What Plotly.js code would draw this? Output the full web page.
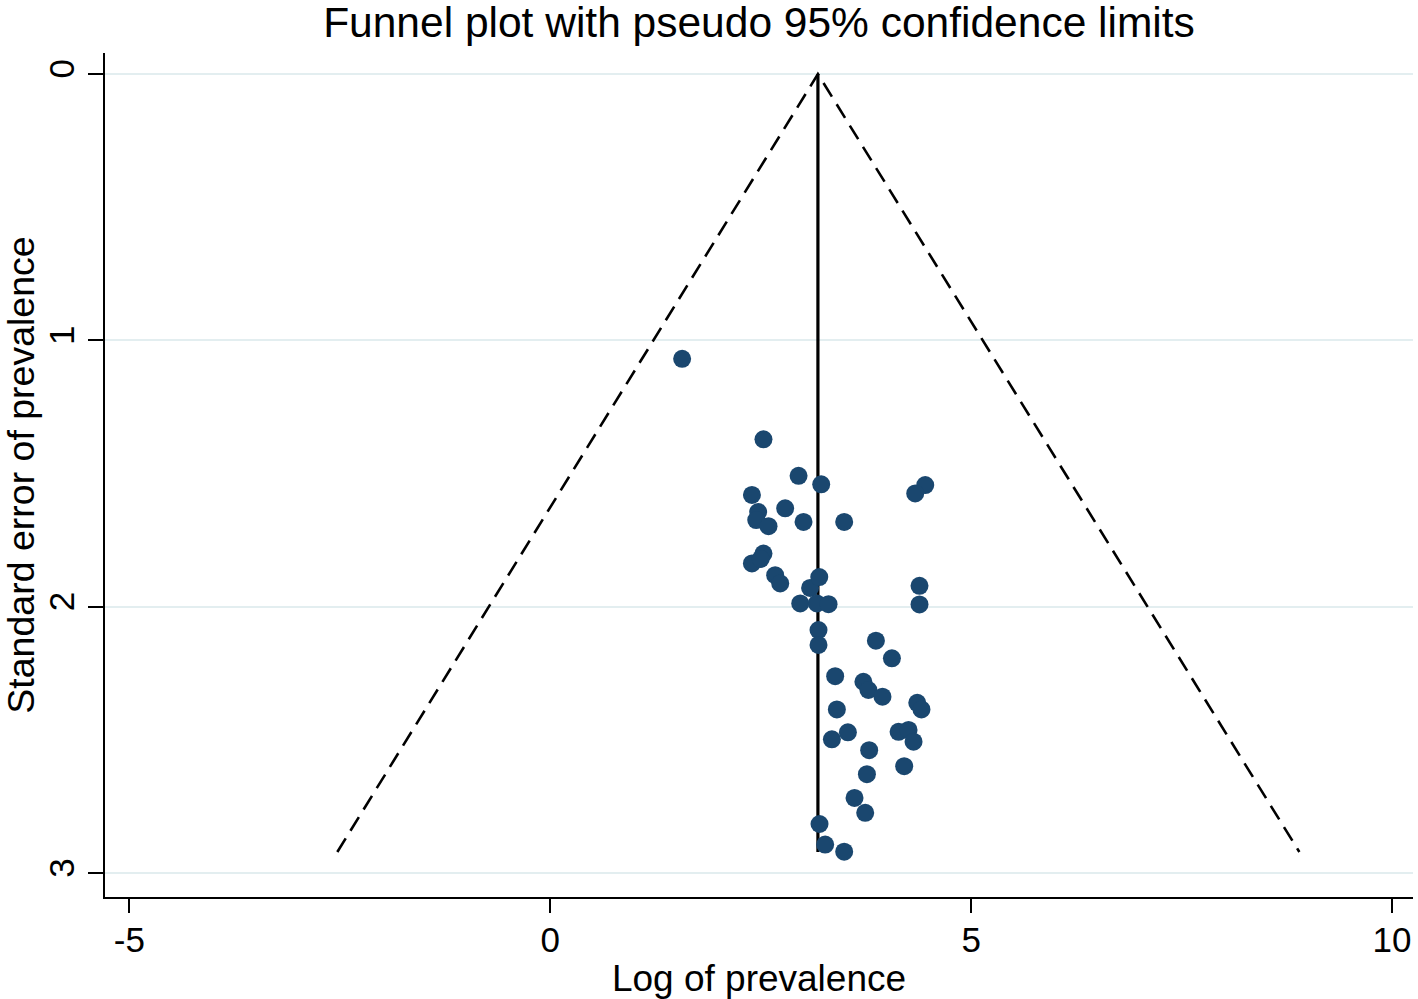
<!DOCTYPE html>
<html>
<head>
<meta charset="utf-8">
<script src="https://cdn.plot.ly/plotly-3.0.1.min.js"></script>
<style>html,body{margin:0;padding:0;background:#fff;}#chart{width:1418px;height:999px;}</style>
</head>
<body>
<div id="chart"></div>
<script>
// Study estimates: log prevalence (x) and its standard error (y)
const logPrevalence = [
  1.567, 2.533, 2.950, 3.219, 2.396, 4.455, 4.336, 2.470, 2.447, 2.593,
  2.791, 3.009, 3.492, 2.533, 2.396, 2.500, 2.672, 2.732, 3.087, 3.196,
  2.970, 3.168, 3.306, 4.387, 4.387, 3.187, 3.187, 3.869, 4.059, 3.385,
  3.720, 3.780, 3.947, 4.360, 4.410, 3.405, 3.536, 3.346, 4.138, 4.257,
  4.316, 3.789, 4.205, 3.762, 3.615, 3.742, 3.199, 3.266, 3.492
];
const stdError = [
  1.069, 1.371, 1.508, 1.540, 1.580, 1.543, 1.574, 1.644, 1.674, 1.697,
  1.630, 1.681, 1.681, 1.800, 1.837, 1.820, 1.881, 1.912, 1.929, 1.888,
  1.987, 1.987, 1.990, 1.921, 1.991, 2.087, 2.143, 2.127, 2.193, 2.260,
  2.281, 2.312, 2.337, 2.360, 2.385, 2.385, 2.471, 2.497, 2.469, 2.462,
  2.506, 2.538, 2.598, 2.628, 2.717, 2.773, 2.815, 2.892, 2.919
];
// Pooled estimate line and pseudo 95% limits
const pooledX = [3.18, 3.18];
const pooledY = [0, 2.92];
const funnelX = [-2.53, 3.18, 8.90];
const funnelY = [2.92, 0, 2.92];
const xTicks = [-5, 0, 5, 10];
const yTicks = [0, 1, 2, 3];

const FONT = 'Liberation Sans, Arial, sans-serif';

const traces = [
  {x: funnelX, y: funnelY, type: 'scatter', mode: 'lines',
   line: {color: '#000', width: 2.6, dash: '16px,9px'}, hoverinfo: 'skip', showlegend: false},
  {x: pooledX, y: pooledY, type: 'scatter', mode: 'lines',
   line: {color: '#000', width: 3.2}, hoverinfo: 'skip', showlegend: false},
  {x: logPrevalence, y: stdError, type: 'scatter', mode: 'markers',
   marker: {color: '#1a476f', size: 18, line: {width: 0}}, showlegend: false}
];

const layout = {
  width: 1418, height: 999,
  margin: {l: 105, r: 5, t: 53, b: 102},
  paper_bgcolor: '#fff', plot_bgcolor: '#fff',
  font: {family: FONT, color: '#000'},
  title: {text: 'Funnel plot with pseudo 95% confidence limits',
          font: {family: FONT, size: 42.5, color: '#000'},
          x: 0.5, xref: 'paper', y: 0.978, yref: 'container', yanchor: 'middle'},
  xaxis: {
    range: [-5.29, 10.25], tickvals: xTicks, ticktext: xTicks.map(String),
    showgrid: false, zeroline: false,
    showline: true, linecolor: '#000', linewidth: 2,
    ticks: 'outside', ticklen: 14, tickwidth: 2, tickcolor: '#000',
    ticklabelstandoff: -3,
    tickfont: {family: FONT, size: 35, color: '#000'},
    title: {text: 'Log of prevalence', font: {family: FONT, size: 37, color: '#000'}, standoff: 8},
    automargin: false
  },
  yaxis: {
    range: [3.089, -0.079], tickvals: yTicks, ticktext: yTicks.map(String),
    tickangle: -90,
    showgrid: true, gridcolor: '#e3eef0', gridwidth: 2, zeroline: false,
    showline: true, linecolor: '#000', linewidth: 2,
    ticks: 'outside', ticklen: 15, tickwidth: 2, tickcolor: '#000',
    tickfont: {family: FONT, size: 35, color: '#000'},
    title: {text: 'Standard error of prevalence', font: {family: FONT, size: 37.5, color: '#000'}, standoff: 8},
    automargin: false
  }
};

Plotly.newPlot('chart', traces, layout, {displayModeBar: false, staticPlot: true});
</script>
</body>
</html>
